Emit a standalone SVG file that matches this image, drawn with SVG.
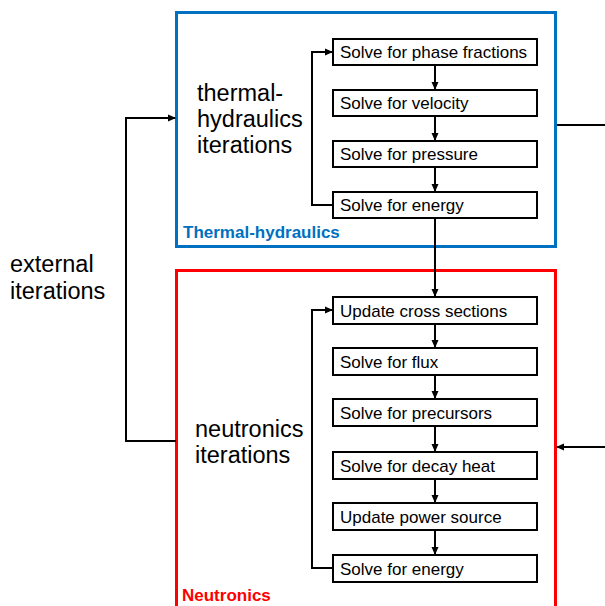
<svg xmlns="http://www.w3.org/2000/svg" width="605" height="606" viewBox="0 0 605 606">
<defs>
<marker id="ah" markerWidth="8" markerHeight="8" refX="7" refY="4" orient="auto" markerUnits="userSpaceOnUse">
<path d="M0,0.5 L8,4 L0,7.5 z" fill="#000"/>
</marker>
<style>
.step rect{fill:#fff;stroke:#000;stroke-width:2}
.step text{font-family:"Liberation Sans",Arial,sans-serif;font-size:17px;fill:#000}
.big{font-family:"Liberation Sans",Arial,sans-serif;font-size:23.5px;fill:#000}
.lbl{font-family:"Liberation Sans",Arial,sans-serif;font-size:17px;font-weight:bold}
.c{fill:none;stroke:#000;stroke-width:2}
</style>
</defs>
<rect width="605" height="606" fill="#fff"/>
<g id="th-group">
<rect x="176.5" y="12.5" width="379" height="234" fill="none" stroke="#0070C0" stroke-width="3"/>
<text class="lbl" x="183" y="238" fill="#0070C0">Thermal-hydraulics</text>
<text class="big" x="197" y="101">thermal-</text>
<text class="big" x="197" y="127">hydraulics</text>
<text class="big" x="197" y="153">iterations</text>
</g>
<g id="n-group">
<rect x="176.5" y="270.5" width="379" height="345" fill="none" stroke="#FF0000" stroke-width="3"/>
<text class="lbl" x="182" y="601" fill="#FF0000">Neutronics</text>
<text class="big" x="195" y="437">neutronics</text>
<text class="big" x="195" y="463">iterations</text>
</g>
<text class="big" x="10" y="272">external</text>
<text class="big" x="10" y="299">iterations</text>
<g id="connectors">
<line class="c" x1="435" y1="65" x2="435" y2="89" marker-end="url(#ah)"/>
<line class="c" x1="435" y1="116" x2="435" y2="140" marker-end="url(#ah)"/>
<line class="c" x1="435" y1="167" x2="435" y2="191" marker-end="url(#ah)"/>
<polyline class="c" points="333,205 312,205 312,52 332,52" marker-end="url(#ah)"/>
<line class="c" x1="435" y1="218" x2="435" y2="296" marker-end="url(#ah)"/>
<line class="c" x1="435" y1="324" x2="435" y2="347" marker-end="url(#ah)"/>
<line class="c" x1="435" y1="375" x2="435" y2="398" marker-end="url(#ah)"/>
<line class="c" x1="435" y1="426" x2="435" y2="451" marker-end="url(#ah)"/>
<line class="c" x1="435" y1="479" x2="435" y2="502" marker-end="url(#ah)"/>
<line class="c" x1="435" y1="530" x2="435" y2="554" marker-end="url(#ah)"/>
<polyline class="c" points="333,568 312,568 312,310 332,310" marker-end="url(#ah)"/>
<polyline class="c" points="176,441 126,441 126,118 175,118" marker-end="url(#ah)"/>
<line class="c" x1="557" y1="125" x2="605" y2="125"/>
<line class="c" x1="605" y1="447" x2="557" y2="447" marker-end="url(#ah)"/>
</g>
<g id="s1" class="step"><rect x="333" y="39" width="204" height="26"/><text x="340" y="58">Solve for phase fractions</text></g>
<g id="s2" class="step"><rect x="333" y="90" width="204" height="26"/><text x="340" y="109">Solve for velocity</text></g>
<g id="s3" class="step"><rect x="333" y="141" width="204" height="26"/><text x="340" y="160">Solve for pressure</text></g>
<g id="s4" class="step"><rect x="333" y="192" width="204" height="26"/><text x="340" y="211">Solve for energy</text></g>
<g id="n1" class="step"><rect x="333" y="297" width="204" height="27"/><text x="340" y="317">Update cross sections</text></g>
<g id="n2" class="step"><rect x="333" y="348" width="204" height="27"/><text x="340" y="368">Solve for flux</text></g>
<g id="n3" class="step"><rect x="333" y="399" width="204" height="27"/><text x="340" y="419">Solve for precursors</text></g>
<g id="n4" class="step"><rect x="333" y="452" width="204" height="27"/><text x="340" y="472">Solve for decay heat</text></g>
<g id="n5" class="step"><rect x="333" y="503" width="204" height="27"/><text x="340" y="523">Update power source</text></g>
<g id="n6" class="step"><rect x="333" y="555" width="204" height="27"/><text x="340" y="575">Solve for energy</text></g>
</svg>
